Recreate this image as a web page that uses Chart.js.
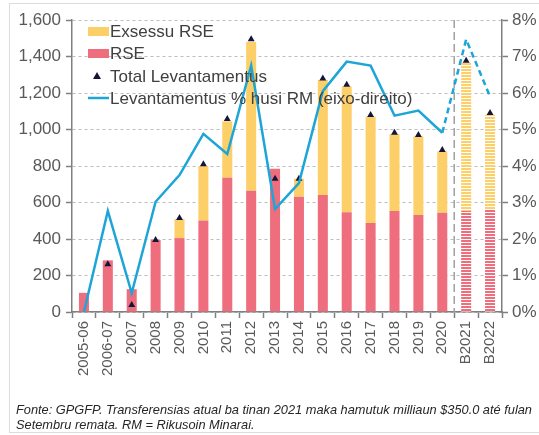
<!DOCTYPE html>
<html>
<head>
<meta charset="utf-8">
<script src="https://cdn.jsdelivr.net/npm/chart.js@4.4.1/dist/chart.umd.min.js"></script>
<style>
  html, body { margin: 0; padding: 0; background: #fff; }
  #wrap { position: relative; width: 539px; height: 435px; overflow: hidden; }
  #frame { position: absolute; left: 9px; top: 3px; width: 540px; height: 430px; border: 1px solid #dcdcdc; box-sizing: border-box; }
  #c { position: absolute; left: 0; top: 0; }
  #note { position: absolute; left: 16px; top: 402px; width: 527px; font-family: "Liberation Sans", Arial, sans-serif; font-style: italic; font-size: 12.8px; line-height: 15px; color: #262626; white-space: nowrap; }
</style>
</head>
<body>
<div id="wrap">
  <div id="frame"></div>
  <canvas id="c" width="539" height="435"></canvas>
  <div id="note">Fonte: GPGFP. Transferensias atual ba tinan 2021 maka hamutuk milliaun $350.0 até fulan<br>Setembru remata. RM = Rikusoin Minarai.</div>
</div>
<script>
const categories = ['2005-06','2006-07','2007','2008','2009','2010','2011','2012','2013','2014','2015','2016','2017','2018','2019','2020','B2021','B2022'];
const rseValues = [105, 283, 125, 395, 405, 502, 735, 665, 785, 632, 641, 546, 487, 553, 531, 544, 553, 559];
const excessValues = [0, 0, 0, 0, 105, 298, 310, 815, 0, 98, 630, 690, 583, 422, 431, 336, 812, 521];
const totalValues = [null, 262, 38, 395, 515, 810, 1057, 1494, 730, 730, 1280, 1245, 1080, 982, 970, 888, 1377, 1090];
const pctValues = [0.0, 2.77, 0.52, 3.02, 3.75, 4.88, 4.33, 6.75, 2.82, 3.53, 6.05, 6.86, 6.75, 5.38, 5.52, 4.91, 7.47, 5.90];
const leftTicks = [0, 200, 400, 600, 800, 1000, 1200, 1400, 1600];
const rightTicks = [0, 1, 2, 3, 4, 5, 6, 7, 8];
const budgetStart = 16;

const legendLabels = ['Exsessu RSE', 'RSE', 'Total Levantamentus', 'Levantamentus % husi RM (eixo-direito)'];

const COL_RSE = '#ef6e7d';
const COL_EXC = '#fdcf68';
const COL_LINE = '#1ea5d8';
const COL_TRI = '#15153a';

function stripe(color) {
  const p = document.createElement('canvas');
  p.width = 8; p.height = 3;
  const g = p.getContext('2d');
  g.fillStyle = color; g.fillRect(0, 0, 8, 2);
  g.fillStyle = '#ffffff'; g.fillRect(0, 2, 8, 1);
  return document.getElementById('c').getContext('2d').createPattern(p, 'repeat');
}
const rseColors = categories.map((c, i) => i >= budgetStart ? stripe(COL_RSE) : COL_RSE);
const excColors = categories.map((c, i) => i >= budgetStart ? stripe(COL_EXC) : COL_EXC);

const FONT = '"Liberation Sans", Arial, sans-serif';

const overlay = {
  id: 'overlay',
  beforeDatasetsDraw(chart) {
    const ctx = chart.ctx, x = chart.scales.x, a = chart.chartArea;
    const px = (x.getPixelForValue(budgetStart - 1) + x.getPixelForValue(budgetStart)) / 2;
    ctx.save();
    ctx.strokeStyle = '#a0a0a0';
    ctx.lineWidth = 1.5;
    ctx.setLineDash([8, 4]);
    ctx.beginPath(); ctx.moveTo(px, a.top); ctx.lineTo(px, a.bottom); ctx.stroke();
    ctx.restore();
  },
  afterDraw(chart) {
    const ctx = chart.ctx;
    ctx.save();
    const bx = 88, bw = 21, tx = 110;
    const ys = [31, 53, 76, 98];
    ctx.font = '17px ' + FONT;
    ctx.textBaseline = 'middle';
    ctx.textAlign = 'left';
    ctx.fillStyle = COL_EXC; ctx.fillRect(bx, ys[0] - 4, bw, 9);
    ctx.fillStyle = COL_RSE; ctx.fillRect(bx, ys[1] - 4, bw, 9);
    ctx.fillStyle = COL_TRI;
    ctx.beginPath(); ctx.moveTo(97, ys[2] - 4); ctx.lineTo(101, ys[2] + 3); ctx.lineTo(93, ys[2] + 3); ctx.closePath(); ctx.fill();
    ctx.strokeStyle = COL_LINE; ctx.lineWidth = 2.5;
    ctx.beginPath(); ctx.moveTo(bx, ys[3]); ctx.lineTo(bx + bw, ys[3]); ctx.stroke();
    ctx.fillStyle = '#404040';
    legendLabels.forEach((t, i) => ctx.fillText(t, tx, ys[i] + 1));
    ctx.restore();
  }
};

new Chart(document.getElementById('c'), {
  data: {
    labels: categories,
    datasets: [
      { type: 'line', label: legendLabels[3], data: pctValues, yAxisID: 'y1', borderColor: COL_LINE, borderWidth: 2.5,
        pointRadius: 0, tension: 0, fill: false, order: 0,
        segment: { borderDash: ctx => ctx.p1DataIndex >= budgetStart ? [6, 4] : undefined } },
      { type: 'line', label: legendLabels[2], data: totalValues, yAxisID: 'y', stack: 'tot', showLine: false,
        pointStyle: 'triangle', pointRadius: 4, pointBackgroundColor: COL_TRI, pointBorderColor: COL_TRI, pointBorderWidth: 0, order: 1 },
      { type: 'bar', label: legendLabels[1], data: rseValues, yAxisID: 'y', stack: 'bars', backgroundColor: rseColors,
        barPercentage: 0.42, categoryPercentage: 1, order: 2 },
      { type: 'bar', label: legendLabels[0], data: excessValues, yAxisID: 'y', stack: 'bars', backgroundColor: excColors,
        barPercentage: 0.42, categoryPercentage: 1, order: 3 }
    ]
  },
  options: {
    responsive: false,
    animation: false,
    layout: { padding: { left: 0, right: 0, top: 20, bottom: 53 } },
    plugins: { legend: { display: false }, tooltip: { enabled: false } },
    scales: {
      x: {
        stacked: true,
        grid: { display: true, drawOnChartArea: false, offset: true, tickLength: 6, tickColor: '#7f7f7f', tickWidth: 1.5 },
        border: { display: true, color: '#7f7f7f', width: 1.5 },
        ticks: { color: '#595959', font: { family: FONT, size: 15 }, minRotation: 90, maxRotation: 90, autoSkip: false, padding: 3 },
        afterFit(s) { s.height = 70; }
      },
      y: {
        stacked: true, position: 'left', min: 0, max: 1600,
        afterBuildTicks(s) { s.ticks = leftTicks.map(v => ({ value: v })); },
        grid: { color: '#bdbdbd', lineWidth: 1, tickLength: 6, tickColor: '#7f7f7f', tickWidth: 1.5, tickBorderDash: [] },
        border: { display: true, color: '#7f7f7f', width: 1.5, dash: [3, 3] },
        ticks: { color: '#595959', font: { family: FONT, size: 17 }, padding: 5,
          callback: v => v.toLocaleString('en-US') },
        afterFit(s) { s.width = 72; }
      },
      y1: {
        position: 'right', min: 0, max: 8,
        afterBuildTicks(s) { s.ticks = rightTicks.map(v => ({ value: v })); },
        grid: { drawOnChartArea: false, tickLength: 6, tickColor: '#7f7f7f', tickWidth: 1.5 },
        border: { display: true, color: '#7f7f7f', width: 1.5 },
        ticks: { color: '#595959', font: { family: FONT, size: 17 }, padding: 4, callback: v => v + '%' },
        afterFit(s) { s.width = 37; }
      }
    }
  },
  plugins: [overlay]
});
</script>
</body>
</html>
